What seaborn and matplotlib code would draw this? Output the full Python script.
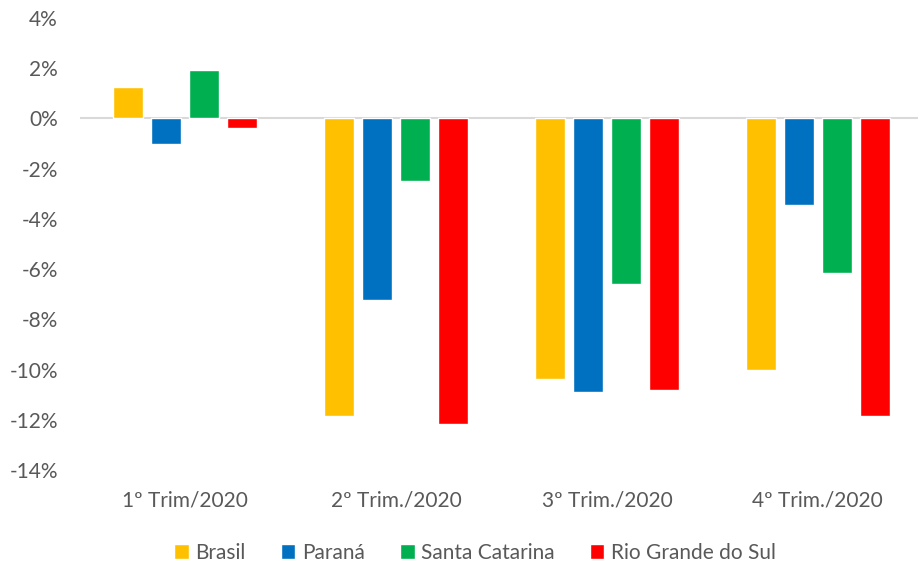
import numpy as np
import pandas as pd
import matplotlib
matplotlib.use("Agg")
import matplotlib.pyplot as plt
import seaborn as sns
from matplotlib.ticker import PercentFormatter, MultipleLocator

sns.set_style("white")
plt.rcParams['font.family'] = ['Lato', 'DejaVu Sans']
plt.rcParams['axes.unicode_minus'] = False

# data (% change)
quarters = ["1º Trim/2020", "2º Trim./2020", "3º Trim./2020", "4º Trim./2020"]
regions = ["Brasil", "Paraná", "Santa Catarina", "Rio Grande do Sul"]
brasil = [1.24, -11.86, -10.37, -10.03]
parana = [-1.00, -7.22, -10.89, -3.45]
santa_catarina = [1.93, -2.50, -6.60, -6.16]
rio_grande = [-0.38, -12.18, -10.81, -11.86]
colors = ["#FFC000", "#0070C0", "#00B050", "#FF0000"]

df = pd.DataFrame({
    "Trimestre": quarters * 4,
    "Regiao": np.repeat(regions, 4),
    "Valor": brasil + parana + santa_catarina + rio_grande,
})

fig = plt.figure(figsize=(9.18, 5.65), dpi=100)
ax = fig.add_axes([80 / 918, 1 - 470 / 565, 843 / 918, 452 / 565])

sns.barplot(data=df, x="Trimestre", y="Valor", hue="Regiao", order=quarters,
            hue_order=regions, palette=colors, width=0.72, gap=0.21,
            saturation=1, ax=ax, legend=True)

ax.set_ylim(-14, 4)
ax.set_xlim(-0.5, 3.5)
ax.yaxis.set_major_locator(MultipleLocator(2))
ax.yaxis.set_major_formatter(PercentFormatter(decimals=0))
ax.axhline(0, color="#D9D9D9", lw=1.5, zorder=0)
for s in ax.spines.values():
    s.set_visible(False)
ax.set_xlabel("")
ax.set_ylabel("")
ax.tick_params(axis="y", length=0, labelsize=15, labelcolor="#595959", pad=16)
ax.tick_params(axis="x", length=0, labelsize=15, labelcolor="#595959", pad=15)

handles, labels = ax.get_legend_handles_labels()
ax.legend_.remove()
fig.legend(handles, labels, loc="center", bbox_to_anchor=(475 / 918, 1 - 553 / 565),
           ncol=4, frameon=False, fontsize=15, labelcolor="#595959",
           handlelength=0.7, handleheight=0.7, handletextpad=0.3,
           columnspacing=1.7)

plt.savefig("out.png", dpi=100)
